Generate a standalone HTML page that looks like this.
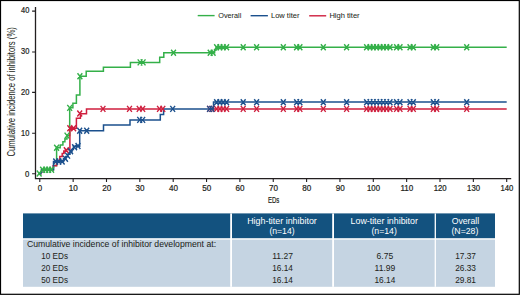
<!DOCTYPE html>
<html><head><meta charset="utf-8"><style>
html,body{margin:0;padding:0;background:#fff;}
body{width:520px;height:295px;overflow:hidden;font-family:"Liberation Sans",sans-serif;}
svg{display:block;}
</style></head><body>
<svg width="520" height="295" viewBox="0 0 520 295">
<rect x="0.5" y="0.5" width="518.8" height="293.8" fill="#fff" stroke="#000" stroke-width="1.2"/>
<rect x="23" y="213.4" width="472" height="24.8" fill="#13527f"/>
<rect x="23" y="239.6" width="472" height="47.2" fill="#c5d4e2"/>
<rect x="230.20" y="213.4" width="1.8" height="73.4" fill="#fff"/>
<rect x="332.20" y="213.4" width="1.8" height="73.4" fill="#fff"/>
<rect x="434.65" y="213.4" width="1.3" height="73.4" fill="#fff"/>
<text x="282.0" y="223.8" text-anchor="middle" font-size="8.4" font-family="Liberation Sans" fill="#fff" stroke="#fff" stroke-width="0.0" textLength="69.7" lengthAdjust="spacingAndGlyphs">High-titer inhibitor</text>
<text x="282.0" y="233.8" text-anchor="middle" font-size="8.4" font-family="Liberation Sans" fill="#fff" stroke="#fff" stroke-width="0.0" textLength="25.2" lengthAdjust="spacingAndGlyphs">(n=14)</text>
<text x="384.2" y="223.8" text-anchor="middle" font-size="8.4" font-family="Liberation Sans" fill="#fff" stroke="#fff" stroke-width="0.0" textLength="67.3" lengthAdjust="spacingAndGlyphs">Low-titer inhibitor</text>
<text x="384.1" y="233.8" text-anchor="middle" font-size="8.4" font-family="Liberation Sans" fill="#fff" stroke="#fff" stroke-width="0.0" textLength="25.4" lengthAdjust="spacingAndGlyphs">(n=14)</text>
<text x="465.4" y="223.8" text-anchor="middle" font-size="8.4" font-family="Liberation Sans" fill="#fff" stroke="#fff" stroke-width="0.0" textLength="27.5" lengthAdjust="spacingAndGlyphs">Overall</text>
<text x="464.9" y="233.8" text-anchor="middle" font-size="8.4" font-family="Liberation Sans" fill="#fff" stroke="#fff" stroke-width="0.0" textLength="26.9" lengthAdjust="spacingAndGlyphs">(N=28)</text>
<text x="26.9" y="246.9" text-anchor="start" font-size="8.2" font-family="Liberation Sans" fill="#231f20" stroke="#231f20" stroke-width="0.03" textLength="189.2" lengthAdjust="spacingAndGlyphs">Cumulative incidence of inhibitor development at:</text>
<text x="41.3" y="258.7" text-anchor="start" font-size="8.2" font-family="Liberation Sans" fill="#231f20" stroke="#231f20" stroke-width="0.03" textLength="26.7" lengthAdjust="spacingAndGlyphs">10 EDs</text>
<text x="282.6" y="258.7" text-anchor="middle" font-size="8.2" font-family="Liberation Sans" fill="#231f20" stroke="#231f20" stroke-width="0.03" textLength="20.8" lengthAdjust="spacingAndGlyphs">11.27</text>
<text x="384.9" y="258.7" text-anchor="middle" font-size="8.2" font-family="Liberation Sans" fill="#231f20" stroke="#231f20" stroke-width="0.03" textLength="16.6" lengthAdjust="spacingAndGlyphs">6.75</text>
<text x="465.6" y="258.7" text-anchor="middle" font-size="8.2" font-family="Liberation Sans" fill="#231f20" stroke="#231f20" stroke-width="0.03" textLength="20.8" lengthAdjust="spacingAndGlyphs">17.37</text>
<text x="41.3" y="270.7" text-anchor="start" font-size="8.2" font-family="Liberation Sans" fill="#231f20" stroke="#231f20" stroke-width="0.03" textLength="26.7" lengthAdjust="spacingAndGlyphs">20 EDs</text>
<text x="282.6" y="270.7" text-anchor="middle" font-size="8.2" font-family="Liberation Sans" fill="#231f20" stroke="#231f20" stroke-width="0.03" textLength="20.8" lengthAdjust="spacingAndGlyphs">16.14</text>
<text x="384.9" y="270.7" text-anchor="middle" font-size="8.2" font-family="Liberation Sans" fill="#231f20" stroke="#231f20" stroke-width="0.03" textLength="20.8" lengthAdjust="spacingAndGlyphs">11.99</text>
<text x="465.6" y="270.7" text-anchor="middle" font-size="8.2" font-family="Liberation Sans" fill="#231f20" stroke="#231f20" stroke-width="0.03" textLength="20.8" lengthAdjust="spacingAndGlyphs">26.33</text>
<text x="41.3" y="283.0" text-anchor="start" font-size="8.2" font-family="Liberation Sans" fill="#231f20" stroke="#231f20" stroke-width="0.03" textLength="26.7" lengthAdjust="spacingAndGlyphs">50 EDs</text>
<text x="282.6" y="283.0" text-anchor="middle" font-size="8.2" font-family="Liberation Sans" fill="#231f20" stroke="#231f20" stroke-width="0.03" textLength="20.8" lengthAdjust="spacingAndGlyphs">16.14</text>
<text x="384.9" y="283.0" text-anchor="middle" font-size="8.2" font-family="Liberation Sans" fill="#231f20" stroke="#231f20" stroke-width="0.03" textLength="20.8" lengthAdjust="spacingAndGlyphs">16.14</text>
<text x="465.6" y="283.0" text-anchor="middle" font-size="8.2" font-family="Liberation Sans" fill="#231f20" stroke="#231f20" stroke-width="0.03" textLength="20.8" lengthAdjust="spacingAndGlyphs">29.81</text>

<path d="M35.5 7V178.6H511.2" fill="none" stroke="#231f20" stroke-width="1.3"/>
<path d="M32.1 11.1H35.5M32.1 52.0H35.5M32.1 92.4H35.5M32.1 133.3H35.5M32.1 173.7H35.5M39.80 178.6V182M73.15 178.6V182M106.50 178.6V182M139.85 178.6V182M173.20 178.6V182M206.55 178.6V182M239.90 178.6V182M273.25 178.6V182M306.60 178.6V182M339.95 178.6V182M373.30 178.6V182M406.65 178.6V182M440.00 178.6V182M473.35 178.6V182M506.70 178.6V182" fill="none" stroke="#231f20" stroke-width="1.1"/>

<text x="29.3" y="13.20" text-anchor="end" font-size="8.3" font-family="Liberation Sans" fill="#231f20" stroke="#231f20" stroke-width="0.22" textLength="8.3" lengthAdjust="spacingAndGlyphs">40</text>
<text x="29.3" y="53.85" text-anchor="end" font-size="8.3" font-family="Liberation Sans" fill="#231f20" stroke="#231f20" stroke-width="0.22" textLength="8.3" lengthAdjust="spacingAndGlyphs">30</text>
<text x="29.3" y="94.85" text-anchor="end" font-size="8.3" font-family="Liberation Sans" fill="#231f20" stroke="#231f20" stroke-width="0.22" textLength="8.3" lengthAdjust="spacingAndGlyphs">20</text>
<text x="29.3" y="135.55" text-anchor="end" font-size="8.3" font-family="Liberation Sans" fill="#231f20" stroke="#231f20" stroke-width="0.22" textLength="8.3" lengthAdjust="spacingAndGlyphs">10</text>
<text x="29.3" y="176.75" text-anchor="end" font-size="8.3" font-family="Liberation Sans" fill="#231f20" stroke="#231f20" stroke-width="0.22" textLength="4.3" lengthAdjust="spacingAndGlyphs">0</text>
<text x="40.00" y="191" text-anchor="middle" font-size="8.3" font-family="Liberation Sans" fill="#231f20" stroke="#231f20" stroke-width="0.22" textLength="4.4" lengthAdjust="spacingAndGlyphs">0</text>
<text x="73.35" y="191" text-anchor="middle" font-size="8.3" font-family="Liberation Sans" fill="#231f20" stroke="#231f20" stroke-width="0.22" textLength="9.0" lengthAdjust="spacingAndGlyphs">10</text>
<text x="106.70" y="191" text-anchor="middle" font-size="8.3" font-family="Liberation Sans" fill="#231f20" stroke="#231f20" stroke-width="0.22" textLength="9.0" lengthAdjust="spacingAndGlyphs">20</text>
<text x="140.05" y="191" text-anchor="middle" font-size="8.3" font-family="Liberation Sans" fill="#231f20" stroke="#231f20" stroke-width="0.22" textLength="9.0" lengthAdjust="spacingAndGlyphs">30</text>
<text x="173.40" y="191" text-anchor="middle" font-size="8.3" font-family="Liberation Sans" fill="#231f20" stroke="#231f20" stroke-width="0.22" textLength="9.0" lengthAdjust="spacingAndGlyphs">40</text>
<text x="206.75" y="191" text-anchor="middle" font-size="8.3" font-family="Liberation Sans" fill="#231f20" stroke="#231f20" stroke-width="0.22" textLength="9.0" lengthAdjust="spacingAndGlyphs">50</text>
<text x="240.10" y="191" text-anchor="middle" font-size="8.3" font-family="Liberation Sans" fill="#231f20" stroke="#231f20" stroke-width="0.22" textLength="9.0" lengthAdjust="spacingAndGlyphs">60</text>
<text x="273.45" y="191" text-anchor="middle" font-size="8.3" font-family="Liberation Sans" fill="#231f20" stroke="#231f20" stroke-width="0.22" textLength="9.0" lengthAdjust="spacingAndGlyphs">70</text>
<text x="306.80" y="191" text-anchor="middle" font-size="8.3" font-family="Liberation Sans" fill="#231f20" stroke="#231f20" stroke-width="0.22" textLength="9.0" lengthAdjust="spacingAndGlyphs">80</text>
<text x="340.15" y="191" text-anchor="middle" font-size="8.3" font-family="Liberation Sans" fill="#231f20" stroke="#231f20" stroke-width="0.22" textLength="9.0" lengthAdjust="spacingAndGlyphs">90</text>
<text x="373.50" y="191" text-anchor="middle" font-size="8.3" font-family="Liberation Sans" fill="#231f20" stroke="#231f20" stroke-width="0.22" textLength="12.9" lengthAdjust="spacingAndGlyphs">100</text>
<text x="406.85" y="191" text-anchor="middle" font-size="8.3" font-family="Liberation Sans" fill="#231f20" stroke="#231f20" stroke-width="0.22" textLength="12.9" lengthAdjust="spacingAndGlyphs">110</text>
<text x="440.20" y="191" text-anchor="middle" font-size="8.3" font-family="Liberation Sans" fill="#231f20" stroke="#231f20" stroke-width="0.22" textLength="12.9" lengthAdjust="spacingAndGlyphs">120</text>
<text x="473.55" y="191" text-anchor="middle" font-size="8.3" font-family="Liberation Sans" fill="#231f20" stroke="#231f20" stroke-width="0.22" textLength="12.9" lengthAdjust="spacingAndGlyphs">130</text>
<text x="506.90" y="191" text-anchor="middle" font-size="8.3" font-family="Liberation Sans" fill="#231f20" stroke="#231f20" stroke-width="0.22" textLength="12.9" lengthAdjust="spacingAndGlyphs">140</text>
<text x="273.6" y="202.6" text-anchor="middle" font-size="9.4" font-family="Liberation Sans" fill="#231f20" stroke="#231f20" stroke-width="0.22" textLength="11.3" lengthAdjust="spacingAndGlyphs">EDs</text>
<text transform="translate(14.7 156.6) rotate(-90)" x="0" y="0" font-size="10" font-family="Liberation Sans" fill="#231f20" stroke="#231f20" stroke-width="0.05" textLength="129.5" lengthAdjust="spacingAndGlyphs">Cumulative incidence of inhibitors (%)</text>

<path d="M197.7 15.6H214.6" stroke="#34b049" stroke-width="1.4"/><path d="M250.6 15.7H267.9" stroke="#1b508d" stroke-width="1.4"/><path d="M309.2 15.8H326.2" stroke="#cf1f3e" stroke-width="1.4"/>
<text x="218.3" y="18.1" font-size="8.1" font-family="Liberation Sans" fill="#231f20" stroke="#231f20" stroke-width="0.05" textLength="23" lengthAdjust="spacingAndGlyphs">Overall</text>
<text x="271.0" y="18.1" font-size="8.1" font-family="Liberation Sans" fill="#231f20" stroke="#231f20" stroke-width="0.05" textLength="28.4" lengthAdjust="spacingAndGlyphs">Low titer</text>
<text x="329.4" y="18.0" font-size="8.1" font-family="Liberation Sans" fill="#231f20" stroke="#231f20" stroke-width="0.05" textLength="30.2" lengthAdjust="spacingAndGlyphs">High titer</text>

<path d="M39.8 173.7L40.7 173.7L40.7 172.2L41.6 172.2L41.6 169.8L53.5 169.8L53.5 165.6L56.6 165.6L56.6 147.7L60.2 147.7L60.2 145.1L62.9 145.1L62.9 141.7L64.9 141.7L64.9 139.0L67.0 139.0L67.0 135.6L69.7 135.6L69.7 107.7L72.9 107.7L72.9 103.3L76.4 103.3L76.4 94.9L79.9 94.9L79.9 76.2L86.2 76.2L86.2 71.3L103.4 71.3L103.4 67.2L130.4 67.2L130.4 62.4L159.7 62.4L159.7 57.3L163.8 57.3L163.8 52.7L214.6 52.7L214.6 50.0L216.2 50.0L216.2 47.3L506.7 47.3" fill="none" stroke="#34b049" stroke-width="1.5"/>
<path d="M39.8 173.7L40.7 173.7L40.7 172.2L41.6 172.2L41.6 169.8L53.2 169.8L53.2 165.8L56.6 165.8L56.6 160.2L59.8 160.2L59.8 156.4L62.2 156.4L62.2 153.5L63.8 153.5L63.8 151.1L65.5 151.1L65.5 149.7L69.9 149.7L69.9 128.2L76.4 128.2L76.4 118.3L80.4 118.3L80.4 113.7L86.5 113.7L86.5 108.9L164.0 108.9M213.0 108.9H506.7" fill="none" stroke="#cf1f3e" stroke-width="1.5"/>
<path d="M39.8 173.7L40.7 173.7L40.7 172.2L41.6 172.2L41.6 169.8L53.5 169.8L53.5 161.5L63.5 161.5L63.5 158.8L65.8 158.8L65.8 156.5L67.8 156.5L67.8 154.2L70.0 154.2L70.0 151.8L72.0 151.8L72.0 149.5L73.4 149.5L73.4 146.3L79.7 146.3L79.7 130.8L103.5 130.8L103.5 125.0L130.0 125.0L130.0 119.9L160.3 119.9L160.3 114.4L163.6 114.4L163.6 108.9L213.5 108.9L213.5 102.1L506.7 102.1" fill="none" stroke="#1b508d" stroke-width="1.5"/>
<path d="M36.8 170.5L41.6 176.5M41.6 170.5L36.8 176.5M40.2 166.8L45.0 172.8M45.0 166.8L40.2 172.8M43.2 166.8L48.0 172.8M48.0 166.8L43.2 172.8M46.2 166.8L51.0 172.8M51.0 166.8L46.2 172.8M49.2 166.8L54.0 172.8M54.0 166.8L49.2 172.8M54.2 144.7L59.0 150.7M59.0 144.7L54.2 150.7M64.6 132.6L69.4 138.6M69.4 132.6L64.6 138.6M67.3 104.9L72.1 110.9M72.1 104.9L67.3 110.9M77.5 73.2L82.3 79.2M82.3 73.2L77.5 79.2M137.7 59.4L142.5 65.4M142.5 59.4L137.7 65.4M140.7 59.4L145.5 65.4M145.5 59.4L140.7 65.4M171.1 49.7L175.9 55.7M175.9 49.7L171.1 55.7M207.8 49.7L212.6 55.7M212.6 49.7L207.8 55.7M210.7 49.7L215.5 55.7M215.5 49.7L210.7 55.7M214.2 44.3L219.0 50.3M219.0 44.3L214.2 50.3M217.5 44.3L222.3 50.3M222.3 44.3L217.5 50.3M220.8 44.3L225.6 50.3M225.6 44.3L220.8 50.3M224.2 44.3L229.0 50.3M229.0 44.3L224.2 50.3M240.8 44.3L245.6 50.3M245.6 44.3L240.8 50.3M254.2 44.3L259.0 50.3M259.0 44.3L254.2 50.3M280.9 44.3L285.7 50.3M285.7 44.3L280.9 50.3M294.2 44.3L299.0 50.3M299.0 44.3L294.2 50.3M297.5 44.3L302.3 50.3M302.3 44.3L297.5 50.3M320.9 44.3L325.7 50.3M325.7 44.3L320.9 50.3M344.2 44.3L349.0 50.3M349.0 44.3L344.2 50.3M364.2 44.3L369.0 50.3M369.0 44.3L364.2 50.3M367.6 44.3L372.4 50.3M372.4 44.3L367.6 50.3M370.9 44.3L375.7 50.3M375.7 44.3L370.9 50.3M374.2 44.3L379.0 50.3M379.0 44.3L374.2 50.3M377.6 44.3L382.4 50.3M382.4 44.3L377.6 50.3M380.9 44.3L385.7 50.3M385.7 44.3L380.9 50.3M384.2 44.3L389.0 50.3M389.0 44.3L384.2 50.3M387.6 44.3L392.4 50.3M392.4 44.3L387.6 50.3M394.2 44.3L399.0 50.3M399.0 44.3L394.2 50.3M397.6 44.3L402.4 50.3M402.4 44.3L397.6 50.3M407.6 44.3L412.4 50.3M412.4 44.3L407.6 50.3M410.9 44.3L415.7 50.3M415.7 44.3L410.9 50.3M430.9 44.3L435.7 50.3M435.7 44.3L430.9 50.3M434.3 44.3L439.1 50.3M439.1 44.3L434.3 50.3M464.3 44.3L469.1 50.3M469.1 44.3L464.3 50.3" fill="none" stroke="#34b049" stroke-width="1.4"/>
<path d="M63.9 147.3L68.7 153.3M68.7 147.3L63.9 153.3M67.4 125.2L72.2 131.2M72.2 125.2L67.4 131.2M71.2 125.2L76.0 131.2M76.0 125.2L71.2 131.2M77.3 110.5L82.1 116.5M82.1 110.5L77.3 116.5M100.6 105.9L105.4 111.9M105.4 105.9L100.6 111.9M127.1 105.9L131.9 111.9M131.9 105.9L127.1 111.9M136.8 105.9L141.6 111.9M141.6 105.9L136.8 111.9M140.3 105.9L145.1 111.9M145.1 105.9L140.3 111.9M157.1 105.9L161.9 111.9M161.9 105.9L157.1 111.9M160.4 105.9L165.2 111.9M165.2 105.9L160.4 111.9M207.2 105.9L212.0 111.9M212.0 105.9L207.2 111.9M209.5 105.9L214.3 111.9M214.3 105.9L209.5 111.9M214.2 105.9L219.0 111.9M219.0 105.9L214.2 111.9M217.5 105.9L222.3 111.9M222.3 105.9L217.5 111.9M220.8 105.9L225.6 111.9M225.6 105.9L220.8 111.9M224.2 105.9L229.0 111.9M229.0 105.9L224.2 111.9M240.8 105.9L245.6 111.9M245.6 105.9L240.8 111.9M254.2 105.9L259.0 111.9M259.0 105.9L254.2 111.9M280.9 105.9L285.7 111.9M285.7 105.9L280.9 111.9M294.2 105.9L299.0 111.9M299.0 105.9L294.2 111.9M297.5 105.9L302.3 111.9M302.3 105.9L297.5 111.9M320.9 105.9L325.7 111.9M325.7 105.9L320.9 111.9M344.2 105.9L349.0 111.9M349.0 105.9L344.2 111.9M364.2 105.9L369.0 111.9M369.0 105.9L364.2 111.9M367.6 105.9L372.4 111.9M372.4 105.9L367.6 111.9M370.9 105.9L375.7 111.9M375.7 105.9L370.9 111.9M374.2 105.9L379.0 111.9M379.0 105.9L374.2 111.9M377.6 105.9L382.4 111.9M382.4 105.9L377.6 111.9M380.9 105.9L385.7 111.9M385.7 105.9L380.9 111.9M384.2 105.9L389.0 111.9M389.0 105.9L384.2 111.9M387.6 105.9L392.4 111.9M392.4 105.9L387.6 111.9M394.2 105.9L399.0 111.9M399.0 105.9L394.2 111.9M397.6 105.9L402.4 111.9M402.4 105.9L397.6 111.9M407.6 105.9L412.4 111.9M412.4 105.9L407.6 111.9M410.9 105.9L415.7 111.9M415.7 105.9L410.9 111.9M430.9 105.9L435.7 111.9M435.7 105.9L430.9 111.9M434.3 105.9L439.1 111.9M439.1 105.9L434.3 111.9M464.3 105.9L469.1 111.9M469.1 105.9L464.3 111.9" fill="none" stroke="#cf1f3e" stroke-width="1.4"/>
<path d="M53.3 158.5L58.1 164.5M58.1 158.5L53.3 164.5M56.5 158.5L61.3 164.5M61.3 158.5L56.5 164.5M59.8 158.5L64.6 164.5M64.6 158.5L59.8 164.5M63.1 155.8L67.9 161.8M67.9 155.8L63.1 161.8M65.2 152.6L70.0 158.6M70.0 152.6L65.2 158.6M68.2 148.2L73.0 154.2M73.0 148.2L68.2 154.2M72.2 144.2L77.0 150.2M77.0 144.2L72.2 150.2M75.6 143.0L80.4 149.0M80.4 143.0L75.6 149.0M77.3 127.8L82.1 133.8M82.1 127.8L77.3 133.8M84.3 127.8L89.1 133.8M89.1 127.8L84.3 133.8M137.3 116.9L142.1 122.9M142.1 116.9L137.3 122.9M140.3 116.9L145.1 122.9M145.1 116.9L140.3 122.9M170.3 105.9L175.1 111.9M175.1 105.9L170.3 111.9M207.2 105.9L212.0 111.9M212.0 105.9L207.2 111.9M209.5 105.9L214.3 111.9M214.3 105.9L209.5 111.9M214.2 99.2L219.0 105.2M219.0 99.2L214.2 105.2M217.5 99.2L222.3 105.2M222.3 99.2L217.5 105.2M220.8 99.2L225.6 105.2M225.6 99.2L220.8 105.2M224.2 99.2L229.0 105.2M229.0 99.2L224.2 105.2M240.8 99.2L245.6 105.2M245.6 99.2L240.8 105.2M254.2 99.2L259.0 105.2M259.0 99.2L254.2 105.2M280.9 99.2L285.7 105.2M285.7 99.2L280.9 105.2M294.2 99.2L299.0 105.2M299.0 99.2L294.2 105.2M297.5 99.2L302.3 105.2M302.3 99.2L297.5 105.2M320.9 99.2L325.7 105.2M325.7 99.2L320.9 105.2M344.2 99.2L349.0 105.2M349.0 99.2L344.2 105.2M364.2 99.2L369.0 105.2M369.0 99.2L364.2 105.2M367.6 99.2L372.4 105.2M372.4 99.2L367.6 105.2M370.9 99.2L375.7 105.2M375.7 99.2L370.9 105.2M374.2 99.2L379.0 105.2M379.0 99.2L374.2 105.2M377.6 99.2L382.4 105.2M382.4 99.2L377.6 105.2M380.9 99.2L385.7 105.2M385.7 99.2L380.9 105.2M384.2 99.2L389.0 105.2M389.0 99.2L384.2 105.2M387.6 99.2L392.4 105.2M392.4 99.2L387.6 105.2M394.2 99.2L399.0 105.2M399.0 99.2L394.2 105.2M397.6 99.2L402.4 105.2M402.4 99.2L397.6 105.2M407.6 99.2L412.4 105.2M412.4 99.2L407.6 105.2M410.9 99.2L415.7 105.2M415.7 99.2L410.9 105.2M430.9 99.2L435.7 105.2M435.7 99.2L430.9 105.2M434.3 99.2L439.1 105.2M439.1 99.2L434.3 105.2M464.3 99.2L469.1 105.2M469.1 99.2L464.3 105.2" fill="none" stroke="#1b508d" stroke-width="1.4"/>

</svg>
</body></html>
